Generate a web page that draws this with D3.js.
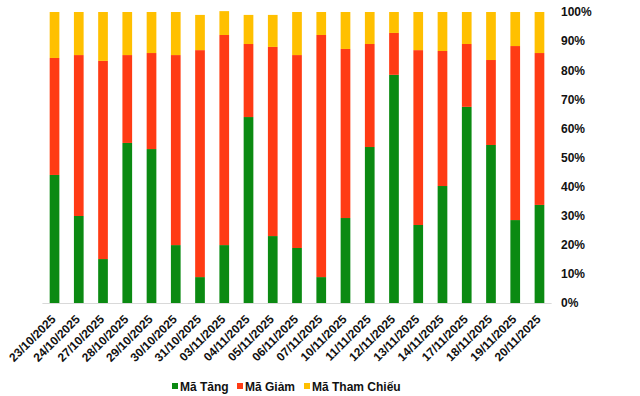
<!DOCTYPE html>
<html><head><meta charset="utf-8">
<script src="https://cdn.jsdelivr.net/npm/d3@7/dist/d3.min.js"></script>
<style>body{margin:0;background:#fff}svg{display:block}</style>
</head><body><svg id="c" width="640" height="396"></svg>
<script>
const dates = ["23/10/2025","24/10/2025","27/10/2025","28/10/2025","29/10/2025","30/10/2025","31/10/2025","03/11/2025","04/11/2025","05/11/2025","06/11/2025","07/11/2025","10/11/2025","11/11/2025","12/11/2025","13/11/2025","14/11/2025","17/11/2025","18/11/2025","19/11/2025","20/11/2025"];
const tang =      [44.0, 29.9, 15.1, 55.0, 52.9, 19.9, 8.9, 19.9, 63.9, 23.0, 18.9, 8.9, 29.2, 53.6, 78.4, 26.8, 40.2, 67.4, 54.3, 28.5, 33.7];
const giam =      [40.2, 55.3, 68.1, 30.2, 33.0, 65.3, 78.0, 72.2, 25.1, 65.0, 66.3, 83.2, 58.1, 35.4, 14.4, 60.1, 46.4, 21.6, 29.2, 59.8, 52.2];
const thamChieu = [15.8, 14.8, 16.8, 14.8, 14.1, 14.8, 12.1, 8.2, 10.0, 11.0, 14.8, 7.9, 12.7, 11.0, 7.2, 13.1, 13.4, 11.0, 16.5, 11.7, 14.1];
const seriesNames = ["Mã Tăng","Mã Giảm","Mã Tham Chiếu"];
const colors = ["#0b8a12","#ff3b14","#ffc000"];
const yTicks = [0,10,20,30,40,50,60,70,80,90,100];

const svg = d3.select("#c");
const x = d3.scaleBand().domain(dates).range([42.4, 551.6]).paddingInner(0.6).paddingOuter(0.3);
const y = d3.scaleLinear().domain([0,100]).range([303, 12]);

const rows = dates.map((d,i)=>({date:d, s0:tang[i], s1:giam[i], s2:thamChieu[i]}));
const stack = d3.stack().keys(["s0","s1","s2"])(rows);

svg.append("g").selectAll("g").data(stack).join("g")
  .attr("fill",(d,i)=>colors[i])
  .selectAll("rect").data(d=>d).join("rect")
  .attr("x",d=>x(d.data.date))
  .attr("width",x.bandwidth())
  .attr("y",d=>y(d[1]))
  .attr("height",d=>y(d[0])-y(d[1]));

// baseline
svg.append("line").attr("x1",42.4).attr("x2",551.6).attr("y1",303.5).attr("y2",303.5)
  .attr("stroke","#d9d9d9").attr("stroke-width",1);

// right axis
const ya = svg.append("g").attr("transform","translate(561,0)")
  .call(d3.axisRight(y).tickValues(yTicks).tickFormat(d=>d+"%").tickSize(0).tickPadding(0));
ya.select(".domain").remove();
ya.selectAll("text").attr("font-family","Liberation Sans, Arial, sans-serif")
  .attr("font-size","12px").attr("font-weight","bold").attr("fill","#111");

// x axis labels
const xa = svg.append("g").attr("transform","translate(0,303)")
  .call(d3.axisBottom(x).tickSize(0).tickPadding(0));
xa.select(".domain").remove();
xa.selectAll("text")
  .attr("font-family","Liberation Sans, Arial, sans-serif")
  .attr("font-size","12px").attr("font-weight","bold").attr("fill","#111")
  .attr("text-anchor","end").attr("dy",null)
  .attr("transform","translate(2,17) rotate(-45)");

// legend
const lg = svg.append("g").attr("font-family","Liberation Sans, Arial, sans-serif")
  .attr("font-size","12px").attr("font-weight","bold");
const lx = [172, 237, 304];
seriesNames.forEach((n,i)=>{
  lg.append("rect").attr("x",lx[i]).attr("y",383).attr("width",6).attr("height",6).attr("fill",colors[i]);
  lg.append("text").attr("x",lx[i]+8).attr("y",390.5).attr("fill","#111").text(n);
});
</script></body></html>
